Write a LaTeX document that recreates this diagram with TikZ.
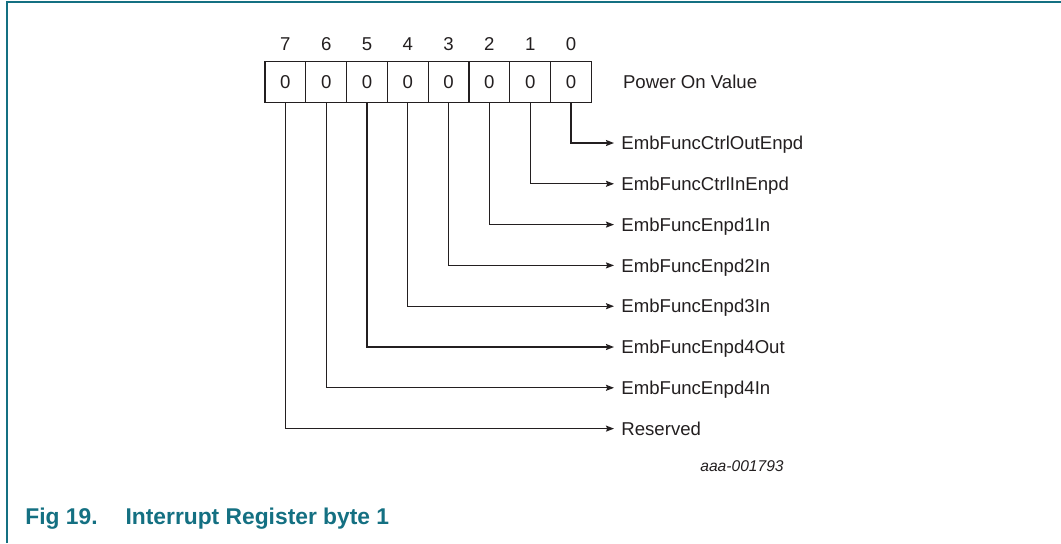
\documentclass[tikz,border=0pt]{standalone}
\usepackage{fontspec}
\setmainfont{Liberation Sans}
\usetikzlibrary{arrows.meta}
\definecolor{nxpteal}{RGB}{20,112,130}
\definecolor{ink}{RGB}{35,31,32}

\begin{document}
\begin{tikzpicture}[
   x=0.5pt, y=-0.5pt,
   every node/.style={text=ink, font=\fontsize{9.3}{11}\selectfont},
   bitbox/.style={draw=ink, line width=0.6pt, minimum size=20.4pt, inner sep=0pt},
   fieldname/.style={anchor=west, inner sep=3.5pt, text depth=0pt},
   feed/.style={draw=ink, line width=0.6pt, -{Stealth[length=4pt,width=3pt,inset=0.6pt]}}]

\useasboundingbox (0,0) rectangle (1061,543);
\draw[nxpteal, line width=1pt] (7,543) -- (7,2) -- (1061,2);

\foreach \b in {7,...,0} {
   \node[bitbox] (box\b) at ({571-40.8*\b},82) {0};
   \node (num\b) at ({571-40.8*\b},44) {\b};
}
\node[anchor=west] (pov) at (616,82) {Power On Value};

\foreach \field [count=\b from 0] in {EmbFuncCtrlOutEnpd, EmbFuncCtrlInEnpd,
      EmbFuncEnpd1In, EmbFuncEnpd2In, EmbFuncEnpd3In, EmbFuncEnpd4Out,
      EmbFuncEnpd4In, Reserved} {
   \node[fieldname] (field\b) at (614,{143+40.8*\b}) {\field};
   \draw[feed] (box\b.south) |- (field\b.west);
}

\node[font=\fontsize{7.8}{9}\selectfont\itshape] (docid) at (742,466) {aaa-001793};
\node[anchor=base west, inner sep=0pt, text=nxpteal,
      font=\fontsize{11.4}{13}\selectfont\bfseries] (caption) at (25,524)
   {Fig 19.\hspace{14pt}Interrupt Register byte 1};

\end{tikzpicture}
\end{document}
